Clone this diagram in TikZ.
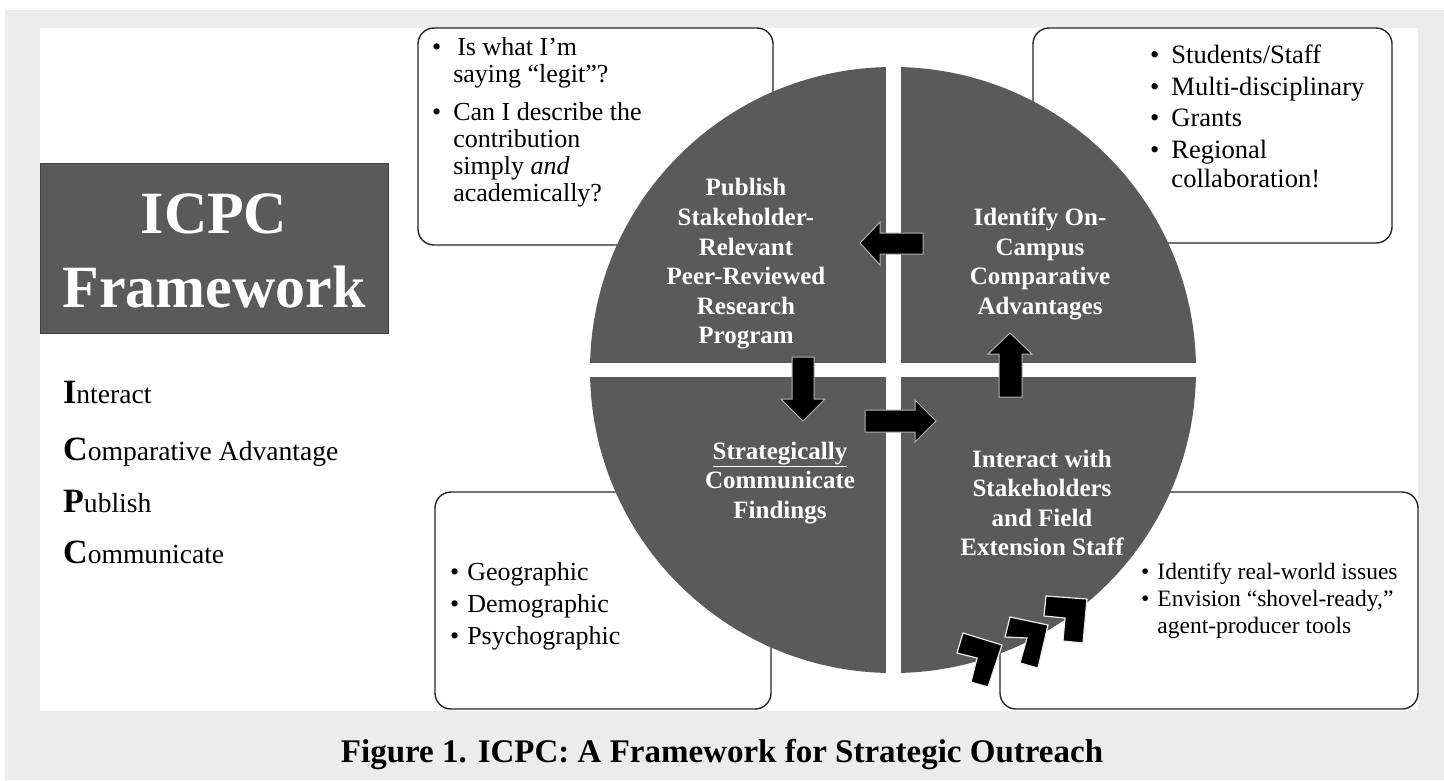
\documentclass[tikz,border=0pt]{standalone}
\usepackage{fontspec}
\setmainfont{Liberation Serif}
\definecolor{pagegrey}{HTML}{ECECEC}
\definecolor{disc}{HTML}{5A5A5A}
\newcommand\initial[2]{{\fontsize{34}{34}\selectfont\bfseries #1}#2}
\begin{document}
\begin{tikzpicture}[x=1pt,y=-1pt,
  note/.style={draw=black!85, line width=1.4pt, rounded corners=16pt, fill=white},
  blockarrow/.style={fill=black, draw=gray!60, line width=1pt, line join=miter},
  chevron/.style={fill=black, draw=white!85!gray, line width=1.2pt, line join=miter},
  quad/.style={text=white, font=\fontsize{25}{29.6}\selectfont\bfseries, align=center, inner sep=0},
  bul/.style={anchor=base west, inner sep=0, align=left},
  acro/.style={anchor=base west, inner sep=0, font=\fontsize{27.6}{27.6}\selectfont},
]
\useasboundingbox (0,0) rectangle (1444,780);
% page background and white panel
\fill[white] (0,0) rectangle (1444,780);
\fill[pagegrey] (5,10) rectangle (1444,780);
\fill[white] (40,28) rectangle (1418,711);

% rounded note boxes (behind the disc)
\path[note] (418,28) rectangle (773,245);
\path[note] (1033,28) rectangle (1392,243);
\path[note] (435,492) rectangle (771,709);
\path[note] (1000,492) rectangle (1418,709);

% note texts
\node[bul] (tlnote) at (432,55) {\fontsize{26}{27}\selectfont
  \begin{tabular}[t]{@{}l@{\hspace{12pt}}l@{}}
  • & \hspace{4pt}Is what I’m\\ & saying “legit”?\\[11pt]
  • & Can I describe the\\ & contribution\\ & simply \textit{and}\\ & academically?
  \end{tabular}};
\node[bul] (trnote) at (1150,63) {\fontsize{26.5}{29}\selectfont
  \begin{tabular}[t]{@{}l@{\hspace{12pt}}l@{}}
  • & Students/Staff\\[3pt]
  • & Multi-disciplinary\\[2pt]
  • & Grants\\[3pt]
  • & Regional\\ & collaboration!
  \end{tabular}};
\node[bul] (blnote) at (450,580) {\fontsize{26}{32}\selectfont
  \begin{tabular}[t]{@{}l@{\hspace{8pt}}l@{}}
  • & Geographic\\ • & Demographic\\ • & Psychographic
  \end{tabular}};
\node[bul] (brnote) at (1141,579) {\fontsize{23.5}{27}\selectfont
  \begin{tabular}[t]{@{}l@{\hspace{8pt}}l@{}}
  • & Identify real-world issues\\ • & Envision “shovel-ready,”\\ & agent-producer tools
  \end{tabular}};

% quartered disc
\fill[disc] (893,370) circle (303pt);
\begin{scope}
  \clip (893,370) circle (304pt);
  \fill[white] (885.5,60) rectangle (900.5,680);
  \fill[white] (580,363) rectangle (1210,377);
\end{scope}

% quadrant labels
\node[quad] (publish) at (746,264) {Publish\\Stakeholder-\\Relevant\\Peer-Reviewed\\Research\\Program};
\node[quad] (identify) at (1040,264) {Identify On-\\Campus\\Comparative\\Advantages};
\node[quad] (communicate) at (780,483) {\underline{Strategically}\\Communicate\\Findings};
\node[quad] (interact) at (1042,503) {Interact with\\Stakeholders\\and Field\\Extension Staff};

% block arrows between quadrants
\draw[blockarrow] (860,243) -- (880,222) -- (880,233) -- (923,233) -- (923,254) -- (880,254) -- (880,265) -- cycle;
\draw[blockarrow] (1010,333) -- (1032,354) -- (1022,354) -- (1022,397) -- (999,397) -- (999,354) -- (988,354) -- cycle;
\draw[blockarrow] (936,421) -- (915,442) -- (915,432) -- (865,432) -- (865,410) -- (915,410) -- (915,400) -- cycle;
\draw[blockarrow] (803,421) -- (781,399) -- (792,399) -- (792,357) -- (814,357) -- (814,399) -- (825,399) -- cycle;

% chevrons rising to the right
\draw[chevron] (963,633) -- (1002,645) -- (988,687) -- (971,682) -- (977,658) -- (957,653) -- cycle;
\draw[chevron] (1010,617) -- (1048,625) -- (1038,668) -- (1020,663) -- (1027,638) -- (1005,637) -- cycle;
\draw[chevron] (1046,596) -- (1087,599) -- (1083,643) -- (1063,641) -- (1065,618) -- (1044,616) -- cycle;

% title block
\node[fill=disc, draw=black!75, line width=0.8pt, minimum width=348pt, minimum height=170pt, inner sep=0] (icpc) at (214,248) {};
\node[anchor=base, inner sep=0, text=white, font=\fontsize{60}{60}\selectfont\bfseries] (icpctitle) at (214,233) {ICPC};
\node[anchor=base, inner sep=0, text=white, font=\fontsize{60}{60}\selectfont\bfseries] (fwtitle) at (214,307) {Framework};

% acronym list
\node[acro] (acI) at (63,403) {\initial{I}{nteract}};
\node[acro] (acC) at (63,460) {\initial{C}{omparative Advantage}};
\node[acro] (acP) at (63,512) {\initial{P}{ublish}};
\node[acro] (acC2) at (63,563) {\initial{C}{ommunicate}};

% caption
\node[anchor=base, inner sep=0, font=\fontsize{33}{33}\selectfont\bfseries] (caption) at (722,762) {Figure 1. ICPC: A Framework for Strategic Outreach};
\end{tikzpicture}
\end{document}
